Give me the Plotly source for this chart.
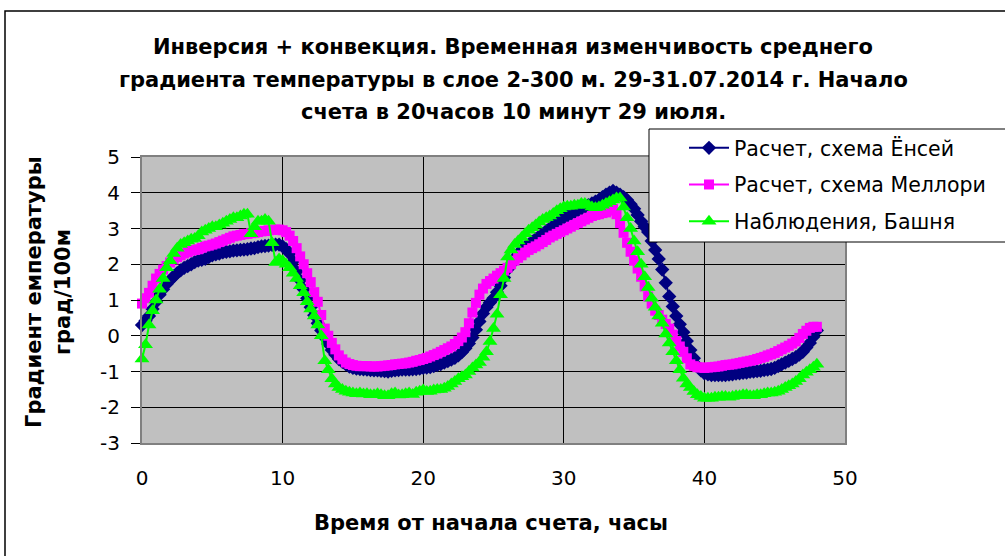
import plotly.graph_objects as go

# time from start of count, hours (15-minute steps, 0..48)
hours = [i * 0.25 for i in range(193)]

yonsei = [
    0.30, 0.42, 0.55, 0.75, 0.95, 1.15, 1.30, 1.45,
    1.55, 1.66, 1.75, 1.83, 1.90, 1.95, 2.00, 2.06,
    2.10, 2.12, 2.15, 2.20, 2.25, 2.28, 2.30, 2.33,
    2.35, 2.36, 2.38, 2.39, 2.40, 2.41, 2.42, 2.44,
    2.45, 2.48, 2.50, 2.51, 2.52, 2.54, 2.55, 2.55,
    2.50, 2.42, 2.30, 2.08, 1.80, 1.55, 1.30, 1.05,
    0.80, 0.57, 0.35, 0.15, -0.05, -0.23, -0.40, -0.53,
    -0.65, -0.73, -0.80, -0.86, -0.90, -0.92, -0.93, -0.94,
    -0.95, -0.96, -0.97, -0.97, -0.98, -0.99, -1.00, -0.98,
    -0.97, -0.96, -0.95, -0.95, -0.95, -0.94, -0.93, -0.92,
    -0.90, -0.89, -0.88, -0.85, -0.82, -0.79, -0.75, -0.71,
    -0.67, -0.62, -0.55, -0.46, -0.35, -0.22, -0.05, 0.17,
    0.40, 0.62, 0.80, 0.93, 1.05, 1.22, 1.40, 1.63,
    1.85, 2.00, 2.15, 2.28, 2.40, 2.48, 2.55, 2.63,
    2.70, 2.78, 2.85, 2.93, 3.00, 3.08, 3.15, 3.23,
    3.30, 3.35, 3.40, 3.45, 3.50, 3.55, 3.60, 3.65,
    3.70, 3.75, 3.80, 3.88, 3.95, 4.00, 4.05, 4.00,
    3.95, 3.88, 3.80, 3.68, 3.55, 3.38, 3.20, 3.05,
    2.90, 2.65, 2.40, 2.15, 1.85, 1.48, 1.10, 0.82,
    0.55, 0.32, 0.10, -0.15, -0.40, -0.63, -0.85, -0.97,
    -1.05, -1.08, -1.10, -1.10, -1.10, -1.10, -1.10, -1.09,
    -1.08, -1.06, -1.05, -1.04, -1.03, -1.01, -1.00, -0.99,
    -0.98, -0.96, -0.95, -0.93, -0.90, -0.85, -0.80, -0.75,
    -0.70, -0.65, -0.60, -0.53, -0.45, -0.33, -0.20, -0.03,
    0.15]

mellor = [
    0.90, 1.05, 1.20, 1.40, 1.60, 1.73, 1.85, 1.95,
    2.05, 2.13, 2.20, 2.25, 2.30, 2.34, 2.38, 2.40,
    2.42, 2.46, 2.50, 2.52, 2.55, 2.58, 2.62, 2.66,
    2.70, 2.74, 2.78, 2.80, 2.82, 2.84, 2.85, 2.87,
    2.88, 2.90, 2.92, 2.93, 2.95, 2.96, 2.97, 2.97,
    2.95, 2.90, 2.80, 2.65, 2.45, 2.22, 2.00, 1.75,
    1.50, 1.22, 0.95, 0.58, 0.20, 0.00, -0.20, -0.38,
    -0.55, -0.66, -0.75, -0.79, -0.82, -0.84, -0.85, -0.85,
    -0.85, -0.86, -0.86, -0.86, -0.85, -0.84, -0.83, -0.82,
    -0.80, -0.79, -0.78, -0.77, -0.75, -0.73, -0.70, -0.68,
    -0.65, -0.62, -0.58, -0.54, -0.50, -0.45, -0.40, -0.35,
    -0.30, -0.23, -0.15, -0.05, 0.10, 0.35, 0.65, 0.92,
    1.15, 1.32, 1.45, 1.53, 1.60, 1.68, 1.75, 1.82,
    1.90, 2.00, 2.10, 2.18, 2.25, 2.33, 2.40, 2.45,
    2.50, 2.56, 2.62, 2.68, 2.75, 2.80, 2.85, 2.90,
    2.95, 3.00, 3.05, 3.10, 3.15, 3.20, 3.25, 3.30,
    3.35, 3.38, 3.40, 3.43, 3.45, 3.50, 3.55, 3.40,
    3.15, 2.88, 2.60, 2.35, 2.10, 1.88, 1.65, 1.38,
    1.10, 0.90, 0.70, 0.58, 0.45, 0.33, 0.20, 0.03,
    -0.15, -0.30, -0.45, -0.63, -0.80, -0.85, -0.88, -0.89,
    -0.90, -0.89, -0.88, -0.87, -0.86, -0.84, -0.82, -0.81,
    -0.80, -0.78, -0.76, -0.74, -0.72, -0.70, -0.68, -0.65,
    -0.62, -0.59, -0.55, -0.52, -0.48, -0.43, -0.38, -0.33,
    -0.28, -0.22, -0.16, -0.06, 0.05, 0.14, 0.22, 0.25,
    0.25]

tower = [
    -0.65, -0.25, 0.30, 0.70, 1.00, 1.30, 1.60, 1.90,
    2.10, 2.30, 2.45, 2.55, 2.60, 2.65, 2.70, 2.72,
    2.80, 2.90, 2.95, 3.00, 3.05, 3.05, 3.10, 3.15,
    3.20, 3.25, 3.30, 3.30, 3.35, 3.40, 3.40, 2.85,
    3.05, 3.20, 3.20, 3.25, 3.20, 2.60, 2.05, 2.15,
    2.10, 2.00, 1.90, 1.75, 1.60, 1.40, 1.20, 0.95,
    0.75, 0.55, 0.30, 0.00, -0.70, -0.95, -1.20, -1.35,
    -1.45, -1.50, -1.55, -1.58, -1.60, -1.62, -1.60, -1.63,
    -1.62, -1.65, -1.65, -1.62, -1.65, -1.68, -1.68, -1.62,
    -1.60, -1.66, -1.65, -1.62, -1.60, -1.64, -1.58, -1.55,
    -1.52, -1.56, -1.55, -1.52, -1.50, -1.50, -1.47, -1.42,
    -1.35, -1.28, -1.20, -1.15, -1.10, -1.00, -0.90, -0.82,
    -0.75, -0.60, -0.45, -0.16, 0.20, 0.60, 1.15, 1.60,
    2.20, 2.40, 2.55, 2.65, 2.75, 2.85, 2.95, 3.02,
    3.10, 3.18, 3.25, 3.30, 3.35, 3.42, 3.50, 3.55,
    3.60, 3.62, 3.62, 3.65, 3.65, 3.70, 3.70, 3.65,
    3.60, 3.58, 3.60, 3.65, 3.70, 3.75, 3.80, 3.85,
    3.85, 3.60, 3.30, 3.00, 2.65, 2.35, 2.00, 1.65,
    1.35, 1.05, 0.80, 0.55, 0.35, 0.05, -0.20, -0.45,
    -0.70, -0.95, -1.19, -1.35, -1.45, -1.56, -1.65, -1.70,
    -1.75, -1.75, -1.75, -1.72, -1.72, -1.70, -1.70, -1.72,
    -1.70, -1.68, -1.68, -1.65, -1.65, -1.68, -1.68, -1.65,
    -1.65, -1.62, -1.60, -1.60, -1.58, -1.55, -1.50, -1.45,
    -1.40, -1.35, -1.28, -1.20, -1.10, -1.02, -0.95, -0.88,
    -0.80]

series_names = ["Расчет, схема Ёнсей", "Расчет, схема Меллори", "Наблюдения, Башня"]
title_lines = ["Инверсия + конвекция. Временная изменчивость среднего",
               "градиента температуры в слое 2-300 м. 29-31.07.2014 г. Начало",
               "счета в 20часов 10 минут 29 июля."]
ytitle_lines = ["Градиент емпературы", "град/100м"]
xtitle = "Время от начала счета, часы"
x_ticks = [0, 10, 20, 30, 40, 50]
y_ticks = [-3, -2, -1, 0, 1, 2, 3, 4, 5]
y_tick_labels = ["-3", "-2", "-1", "0", "1", "2", "3", "4", "5"]

W, H = 1005, 556
L, R, T, B = 142, 845, 157, 443
WIDE = "DejaVu Sans, sans-serif"

def px(x):
    return (x - L) / (R - L)

def py(y):
    return (B - y) / (B - T)

fig = go.Figure()
specs = [(yonsei, "#000080", "diamond", 11),
         (mellor, "#FF00FF", "square", 10),
         (tower, "#00FF00", "triangle-up", 13)]
for i, (vals, col, sym, sz) in enumerate(specs):
    fig.add_trace(go.Scatter(
        x=hours, y=vals, name=series_names[i], mode="lines+markers",
        line=dict(color=col, width=2),
        marker=dict(symbol=sym, size=sz, color=col, line=dict(width=0)),
        cliponaxis=False, legendgroup=str(i)))

annotations = []
for line, yy in zip(title_lines, [47, 80, 112]):
    annotations.append(dict(xref="paper", yref="paper", x=px(513), y=py(yy),
                            text="<b>%s</b>" % line, showarrow=False,
                            xanchor="center", yanchor="middle",
                            font=dict(family=WIDE, size=21, color="black")))
for line, xx in zip(ytitle_lines, [34, 63]):
    annotations.append(dict(xref="paper", yref="paper", x=px(xx), y=py(292),
                            text="<b>%s</b>" % line, showarrow=False, textangle=-90,
                            xanchor="center", yanchor="middle",
                            font=dict(family=WIDE, size=21, color="black")))
annotations.append(dict(xref="paper", yref="paper", x=px(491), y=py(523),
                        text="<b>%s</b>" % xtitle, showarrow=False,
                        xanchor="center", yanchor="middle",
                        font=dict(family=WIDE, size=21, color="black")))

shapes = [
    dict(type="rect", xref="paper", yref="paper", x0=px(5), x1=px(1012), y0=py(11), y1=py(560),
         line=dict(color="black", width=1.5), fillcolor="rgba(0,0,0,0)", layer="below"),
    dict(type="rect", xref="paper", yref="paper", x0=px(649), x1=px(1012), y0=py(129), y1=py(242),
         line=dict(color="black", width=1), fillcolor="white", layer="above"),
]

fig.update_layout(
    width=W, height=H,
    margin=dict(l=L, r=W - R, t=T, b=H - B, autoexpand=False),
    paper_bgcolor="white", plot_bgcolor="#C0C0C0",
    showlegend=True,
    legend=dict(x=px(684), y=py(128), xanchor="left", yanchor="top",
                bgcolor="rgba(0,0,0,0)", borderwidth=0, traceorder="grouped",
                tracegroupgap=7, font=dict(family=WIDE, size=20.5, color="black"),
                itemwidth=40),
    annotations=annotations, shapes=shapes,
    font=dict(family=WIDE, color="black"),
)
fig.update_xaxes(range=[0, 50], tickvals=x_ticks, showgrid=True, gridcolor="black", gridwidth=1,
                 zeroline=False, showline=True, linecolor="#808080", linewidth=2, mirror=True,
                 ticks="", ticklabelstandoff=16, tickfont=dict(family=WIDE, size=20, color="black"))
fig.update_yaxes(range=[-3, 5], tickvals=y_ticks, ticktext=y_tick_labels,
                 showgrid=True, gridcolor="black", gridwidth=1,
                 zeroline=False, showline=True, linecolor="#808080", linewidth=2, mirror=True,
                 ticks="outside", ticklen=9, tickcolor="black", ticklabelstandoff=7,
                 tickfont=dict(family=WIDE, size=20, color="black"))

fig.write_html("out.html", config={"displayModeBar": False},
               post_script="document.body.style.margin='0px';")
